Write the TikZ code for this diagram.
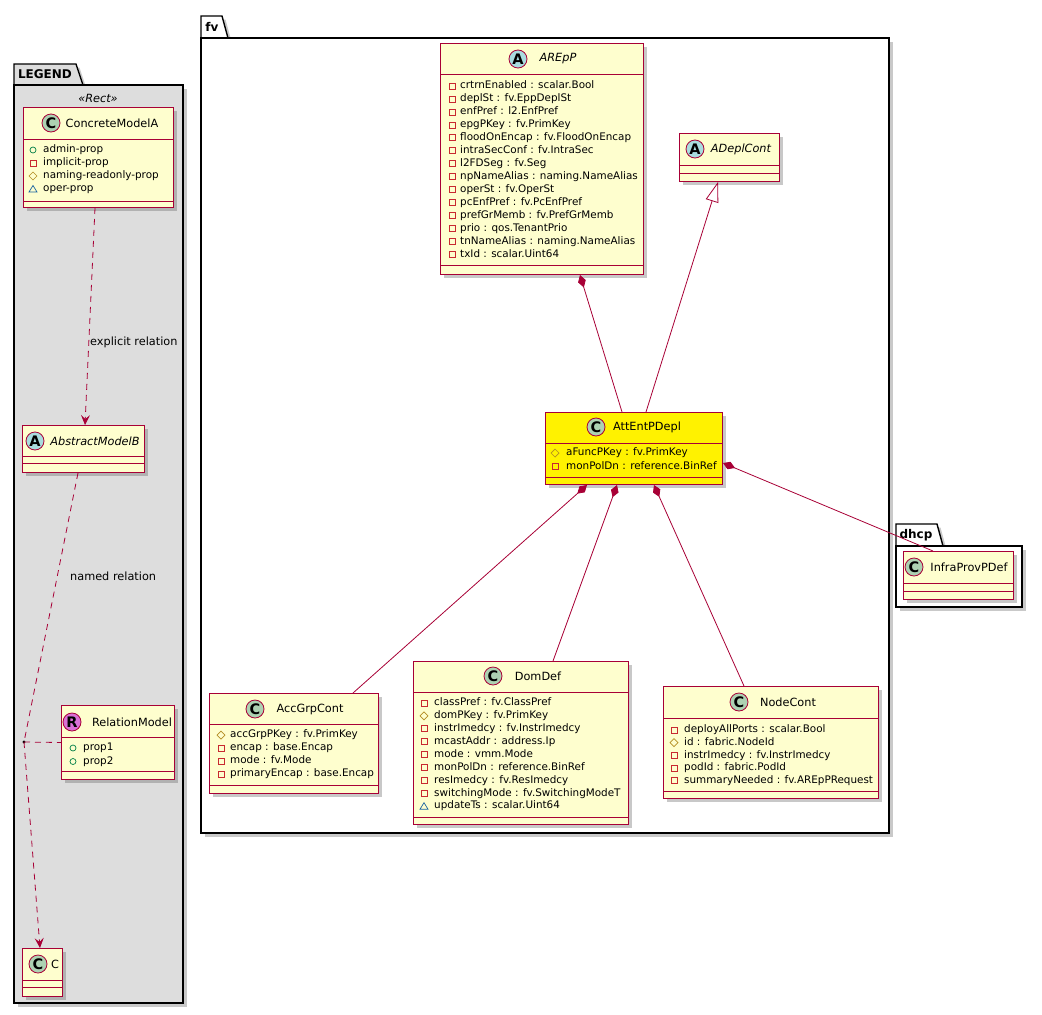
\documentclass[tikz,border=0pt]{standalone}
\usepackage{fontspec}
\setmainfont{DejaVu Sans}
\usetikzlibrary{arrows.meta,shadows}
\definecolor{crim}{HTML}{A80036}
\definecolor{clsfill}{HTML}{FEFECE}
\definecolor{legfill}{HTML}{DDDDDD}
\definecolor{cC}{HTML}{ADD1B2}
\definecolor{cA}{HTML}{A9DCDF}
\definecolor{cR}{HTML}{DA70D6}
\definecolor{pubc}{HTML}{038048}
\definecolor{privc}{HTML}{C82930}
\definecolor{protc}{HTML}{B38D22}
\definecolor{pkgc}{HTML}{1963A0}
\newcommand\icnpub{\draw[pubc, line width=0.7pt] (0,0) circle (3pt);}
\newcommand\icnpriv{\draw[privc, line width=0.7pt] (-3,-3) rectangle (3,3);}
\newcommand\icnprot{\draw[protc, line width=0.7pt] (0,-4) -- (4,0) -- (0,4) -- (-4,0) -- cycle;}
\newcommand\icnpkg{\draw[pkgc, line width=0.7pt] (0,-3.5) -- (4,3) -- (-4,3) -- cycle;}
% #1 prefix, #2 icon x, #3 text x, #4 y0, #5 step, #6 list
\newcommand\umlattrs[6]{%
  \foreach \t/\s [count=\i from 0] in {#6} {%
    \begin{scope}[shift={(#2,#4+#5*\i)}]\csname icn\t\endcsname\end{scope}
    \node[attr] (#1-\i) at (#3,#4+#5*\i) {\s};
  }}
% [#1 fill] #2 name, #3 x, #4 y, #5 w, #6 h, #7 header, #8 section
\newcommand\umlbox[8][clsfill]{%
  \node[clsbox, fill=#1, minimum width=#5pt, minimum height=#6pt, anchor=north west] (#2) at (#3,#4) {};
  \draw[crim, line width=1pt] (#3,#4+#7) -- (#3+#5,#4+#7) (#3,#4+#8) -- (#3+#5,#4+#8);
}
\begin{document}
\begin{tikzpicture}[x=1pt, y=-1pt,
  every node/.style={inner sep=0},
  attr/.style={anchor=west, inner sep=0, text height=7.5pt, text depth=2pt, font=\fontsize{10.4}{12}\selectfont},
  clsbox/.style={draw=crim, line width=1pt, inner sep=0,
    drop shadow={shadow xshift=3.5pt, shadow yshift=-3.5pt, opacity=0.3, fill=black!70}},
  pkgshape/.style={draw=black, line width=1.4pt,
    drop shadow={shadow xshift=3.5pt, shadow yshift=-3.5pt, opacity=0.3, fill=black!70}},
  pkgtitle/.style={font=\bfseries\fontsize{12}{14}\selectfont},
  circ/.style={circle, draw=crim, line width=0.8pt, minimum size=18pt, inner sep=0,
    font=\bfseries\fontsize{14.5}{15}\selectfont},
  cname/.style={font=\fontsize{11.3}{13}\selectfont},
  lbl/.style={anchor=west, font=\fontsize{11.3}{13}\selectfont},
  conn/.style={crim, line width=0.8pt},
  dashl/.style={conn, dash pattern=on 6pt off 5pt},
  dep/.style={dashl, -{Stealth[length=10pt, width=9pt, inset=4pt]}},
  comp/.style={conn, {Diamond[length=13pt, width=8pt, fill=crim]}-},
  inh/.style={conn, -{Triangle[open, length=20pt, width=13pt, fill=white]}}
]
\useasboundingbox (0,0) rectangle (1042,1015);

% ---------------- LEGEND package
\draw[pkgshape, fill=legfill] (14,85) -- (14,64) -- (76,64) -- (83,85) -- cycle;
\draw[pkgshape, fill=legfill] (14,85) rectangle (183,1003);
\node[pkgtitle] (legendt) at (45,74) {LEGEND};
\node[font=\itshape\fontsize{11.3}{13}\selectfont] (rectst) at (98,98) {«Rect»};

\umlbox{cma}{23}{107}{150}{100}{32}{94}
\node[circ, fill=cC] (cma-c) at (51,123) {C};
\node[cname] (cma-n) at (112,123) {ConcreteModelA};
\umlattrs{cmaa}{33}{43}{150}{13}{pub/admin-prop, priv/implicit-prop, prot/naming-readonly-prop, pkg/oper-prop}

\umlbox{amb}{22}{425}{122}{47}{31}{38}
\node[circ, fill=cA] (amb-c) at (35,441) {A};
\node[cname, font=\itshape\fontsize{11.3}{13}\selectfont] (amb-n) at (95,441) {AbstractModelB};

\umlbox{rm}{61}{705}{113}{74}{32}{66}
\node[circ, fill=cR] (rm-c) at (72,722) {R};
\node[cname] (rm-n) at (132,722) {RelationModel};
\umlattrs{rma}{73}{83}{748}{13.5}{pub/prop1, pub/prop2}

\umlbox{cc}{22}{948}{40}{48}{32}{39}
\node[circ, fill=cC] (cc-c) at (38,964) {C};
\node[cname] (cc-n) at (55,964) {C};

% ---------------- fv package
\draw[pkgshape, fill=white] (201,38) -- (201,16) -- (222,16) -- (228,38) -- cycle;
\draw[pkgshape, fill=white] (201,38) rectangle (889,833);
\node[pkgtitle] (fvt) at (212,27) {fv};

\umlbox{arepp}{440}{43}{203}{231}{31}{222}
\node[circ, fill=cA] (arepp-c) at (518,59) {A};
\node[cname, font=\itshape\fontsize{11.3}{13}\selectfont] (arepp-n) at (558,59) {AREpP};
\umlattrs{areppa}{452}{460}{86}{12.95}{priv/crtrnEnabled : scalar.Bool,
 priv/deplSt : fv.EppDeplSt,
 priv/enfPref : l2.EnfPref,
 priv/epgPKey : fv.PrimKey,
 priv/floodOnEncap : fv.FloodOnEncap,
 priv/intraSecConf : fv.IntraSec,
 priv/l2FDSeg : fv.Seg,
 priv/npNameAlias : naming.NameAlias,
 priv/operSt : fv.OperSt,
 priv/pcEnfPref : fv.PcEnfPref,
 priv/prefGrMemb : fv.PrefGrMemb,
 priv/prio : qos.TenantPrio,
 priv/tnNameAlias : naming.NameAlias,
 priv/txId : scalar.Uint64}

\umlbox{adc}{679}{133}{100}{48}{32}{40}
\node[circ, fill=cA] (adc-c) at (695,149) {A};
\node[cname, font=\itshape\fontsize{11.3}{13}\selectfont] (adc-n) at (741,149) {ADeplCont};

\umlbox[yellow]{att}{545}{412}{177}{72}{31}{65}
\node[circ, fill=cC] (att-c) at (596,427) {C};
\node[cname] (att-n) at (647,427) {AttEntPDepl};
\umlattrs{atta}{555}{566}{453}{13.5}{prot/aFuncPKey : fv.PrimKey, priv/monPolDn : reference.BinRef}

\umlbox{acc}{209}{693}{169}{100}{31}{92}
\node[circ, fill=cC] (acc-c) at (255,709) {C};
\node[cname] (acc-n) at (310,709) {AccGrpCont};
\umlattrs{acca}{221}{230}{735}{13}{prot/accGrpPKey : fv.PrimKey,
 priv/encap : base.Encap,
 priv/mode : fv.Mode,
 priv/primaryEncap : base.Encap}

\umlbox{dom}{413}{661}{215}{163}{31}{156}
\node[circ, fill=cC] (dom-c) at (493,676) {C};
\node[cname] (dom-n) at (538,676) {DomDef};
\umlattrs{doma}{424}{434}{703}{12.9}{priv/classPref : fv.ClassPref,
 prot/domPKey : fv.PrimKey,
 priv/instrImedcy : fv.InstrImedcy,
 priv/mcastAddr : address.Ip,
 priv/mode : vmm.Mode,
 priv/monPolDn : reference.BinRef,
 priv/resImedcy : fv.ResImedcy,
 priv/switchingMode : fv.SwitchingModeT,
 pkg/updateTs : scalar.Uint64}

\umlbox{nc}{663}{686}{215}{112}{32}{105}
\node[circ, fill=cC] (nc-c) at (739,702) {C};
\node[cname] (nc-n) at (788,702) {NodeCont};
\umlattrs{nca}{674}{684}{730}{12.7}{priv/deployAllPorts : scalar.Bool,
 prot/id : fabric.NodeId,
 priv/instrImedcy : fv.InstrImedcy,
 priv/podId : fabric.PodId,
 priv/summaryNeeded : fv.AREpPRequest}

% ---------------- dhcp package
\draw[pkgshape, fill=white] (896,546) -- (896,524) -- (937,524) -- (943,546) -- cycle;
\draw[pkgshape, fill=white] (896,546) rectangle (1022,607);
\node[pkgtitle] (dhcpt) at (916,535) {dhcp};

\umlbox{ipd}{903}{551}{110}{48}{32}{40}
\node[circ, fill=cC] (ipd-c) at (914,567) {C};
\node[cname] (ipd-n) at (969,567) {InfraProvPDef};

% ---------------- connector end points on the boxes
\path (cma.south west) ++(72,0) coordinate (cma-b);
\path (amb.north west) ++(63,0) coordinate (amb-t);
\path (amb.south west) ++(56,0) coordinate (amb-b);
\path (cc.north west) ++(18,0) coordinate (cc-t);
\path (arepp.south west) ++(140,0) coordinate (arepp-d);
\path (att.north west) ++(77,0) coordinate (att-t1);
\path (att.north west) ++(101,0) coordinate (att-t2);
\path (adc.south west) ++(39,0) coordinate (adc-b);
\path (att.south west) ++(42,0) coordinate (att-b1);
\path (att.south west) ++(72,0) coordinate (att-b2);
\path (att.south west) ++(109,0) coordinate (att-b3);
\path (att.north east) ++(0,51) coordinate (att-r);
\path (acc.north west) ++(144,0) coordinate (acc-t);
\path (dom.north west) ++(140,0) coordinate (dom-t);
\path (nc.north west) ++(81,0) coordinate (nc-t);
\path (ipd.north west) ++(30,0) coordinate (ipd-t);

% ---------------- connectors
\draw[dep] (cma-b) -- (amb-t);
\node[lbl] (expl) at (90,342) {explicit relation};
\node[circle, fill=black, minimum size=3.2pt] (dot) at (24,742) {};
\draw[dashl] (amb-b) -- (dot.center);
\draw[dep] (dot.center) -- (cc-t);
\draw[dashl] (dot.center) -- (rm.west);
\node[lbl] (named) at (70,576) {named relation};

\draw[comp] (arepp-d) -- (att-t1);
\draw[inh] (att-t2) -- (adc-b);
\draw[comp] (att-b1) -- (acc-t);
\draw[comp] (att-b2) -- (dom-t);
\draw[comp] (att-b3) -- (nc-t);
\draw[comp] (att-r) -- (ipd-t);
\end{tikzpicture}
\end{document}
